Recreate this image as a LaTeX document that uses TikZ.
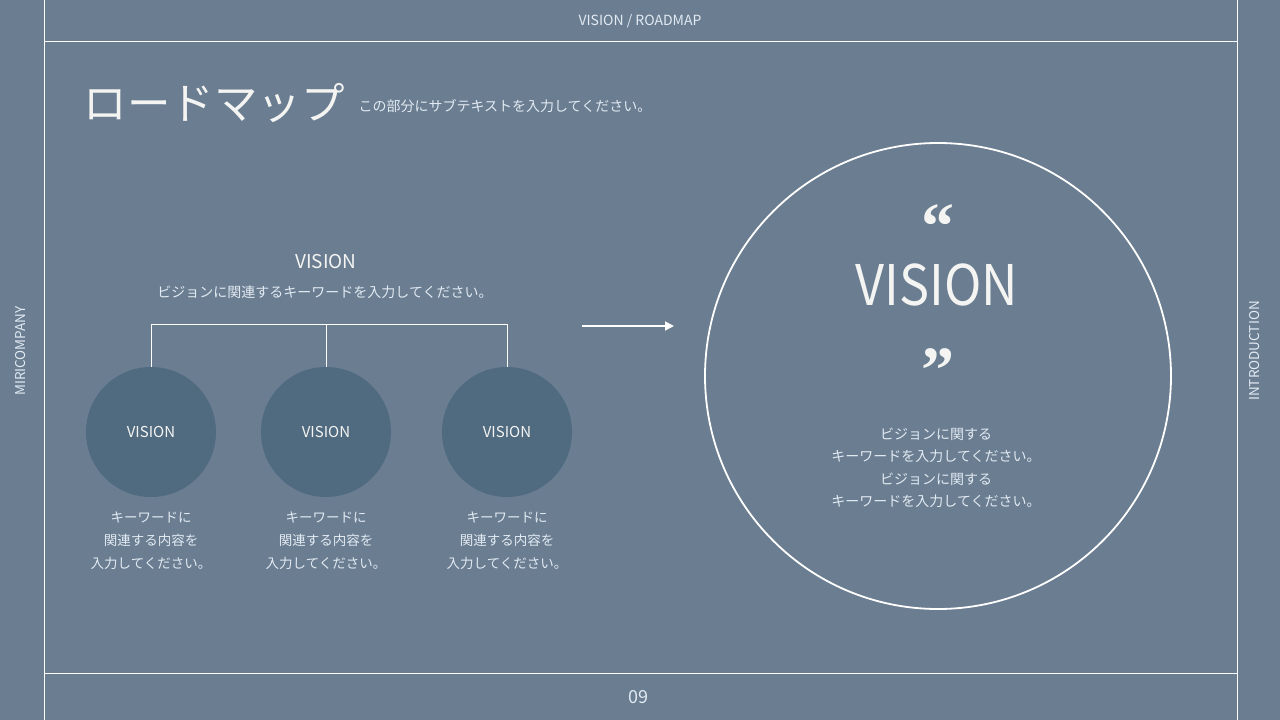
\documentclass[tikz,border=0pt]{standalone}
\usepackage{fontspec}
\setmainfont{Noto Sans CJK JP}
\newfontfamily\quotefont{Liberation Serif}
\usetikzlibrary{arrows.meta}
\definecolor{slidebg}{HTML}{6A7D91}
\definecolor{dotfill}{HTML}{506A80}
\definecolor{paletext}{HTML}{E2EAF2}
\definecolor{brighttext}{HTML}{F4F4F2}

\begin{document}
\begin{tikzpicture}[x=1pt,y=-1pt,
    frameline/.style={white, line width=1pt},
    small/.style={text=paletext, font=\fontsize{13}{16}\selectfont},
    dot/.style={circle, fill=dotfill, minimum size=130pt, inner sep=0pt,
      text=brighttext, font=\fontsize{15}{18}\selectfont},
    note/.style={align=center, text=paletext, font=\fontsize{13.5}{23}\selectfont},
    quote/.style={anchor=base, inner sep=0pt, text=brighttext, text height=42pt,
      text depth=-20pt, font=\quotefont\bfseries\fontsize{66}{66}\selectfont}]
      \fill[slidebg] (0,0) rectangle (1280,720) ;
      \useasboundingbox (0,0) rectangle (1280,720) ;
      % frame
      \draw[frameline] (44,0)--(44,720) ;
      \draw[frameline] (1237,0)--(1237,720) ;
      \draw[frameline] (44,41)--(1237,41) ;
      \draw[frameline] (44,673)--(1237,673) ;
      \node[small, font=\fontsize{14}{16}\selectfont] (hdr) at (640,21) {VISION / ROADMAP} ;
      \node[small, rotate=90, font=\fontsize{13.5}{16}\selectfont] (brand) at (21,351) {MIRICOMPANY} ;
      \node[small, rotate=90, font=\fontsize{13.5}{16}\selectfont] (section) at (1255,351) {INTRODUCTION} ;
      \node[small, font=\fontsize{18}{20}\selectfont] (pg) at (638,697) {09} ;
      % title
      \node[anchor=west, text=brighttext, font=\fontsize{43.5}{48}\selectfont] %
      (title) at (80,103) {ロードマップ} ;
      \node[small, anchor=west, font=\fontsize{14}{16}\selectfont] %
      (sub) at (355,106) {この部分にサブテキストを入力してください。} ;
      % left group
      \node[text=brighttext, font=\fontsize{19}{22}\selectfont] (vis) at (326,262) {VISION} ;
      \node[small, font=\fontsize{14}{16}\selectfont] %
      (vissub) at (325,292) {ビジョンに関連するキーワードを入力してください。} ;
      \foreach \i/\x in {1/151,2/326,3/507} {
        \node[dot] (c\i) at (\x,432) {VISION} ;
        \node[note] (n\i) at (\x,541) {キーワードに\\関連する内容を\\入力してください。} ;
      }
      \coordinate (bl) at (151,324) ;
      \coordinate (br) at (507,324) ;
      \draw[white, line width=1pt] (bl)--(br) ;
      \foreach \i in {1,2,3}
        \draw[white, line width=1pt] (c\i.north |- bl)--(c\i.north) ;
      % arrow
      \coordinate (as) at (582,326) ;
      \coordinate (ae) at (674,326) ;
      \draw[white, line width=1.8pt, -{Triangle[length=9pt,width=9pt]}] (as)--(ae) ;
      % right circle
      \node[circle, draw=white, line width=1.8pt, minimum size=466pt, inner sep=0pt] %
      (big) at (938,376) {} ;
      \node[quote] (qopen) at (938,248) {“} ;
      \node[quote] (qclose) at (938,392) {”} ;
      \node[anchor=base, inner sep=0pt, text height=41pt, text depth=0pt, text=brighttext, %
      font=\fontsize{56}{60}\selectfont] (bigvis) at (937,305) {\scalebox{0.9}[1]{VISION}} ;
      \node[note, font=\fontsize{14}{22.5}\selectfont] %
      (bigtxt) at (936,468) {ビジョンに関する\\キーワードを入力してください。\\ビジョンに関する\\キーワードを入力してください。} ;
    \end{tikzpicture}
\end{document}
